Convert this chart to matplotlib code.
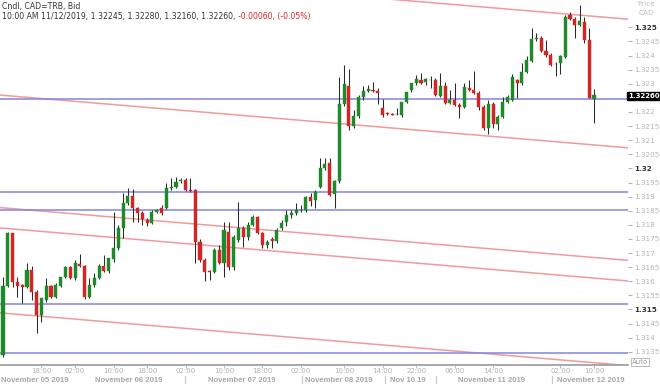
import numpy as np
import matplotlib
matplotlib.use("Agg")
import matplotlib.pyplot as plt
import matplotlib.transforms as mtransforms

# hourly candles, CAD=TRB bid
opens = [1.31338, 1.31583, 1.31771, 1.31597, 1.31586, 1.31579, 1.31640, 1.31562, 1.31480, 1.31533,
         1.31583, 1.31544, 1.31583, 1.31615, 1.31650, 1.31611, 1.31661, 1.31654, 1.31544, 1.31586,
         1.31611, 1.31654, 1.31636, 1.31679, 1.31718, 1.31789, 1.31877, 1.31902, 1.31859, 1.31842,
         1.31817, 1.31806, 1.31845, 1.31859, 1.31859, 1.31930, 1.31934, 1.31955, 1.31959, 1.31923,
         1.31923, 1.31739, 1.31675, 1.31633, 1.31633, 1.31711, 1.31664, 1.31774, 1.31650, 1.31746,
         1.31789, 1.31757, 1.31799, 1.31828, 1.31771, 1.31728, 1.31750, 1.31742, 1.31789, 1.31810,
         1.31835, 1.31842, 1.31852, 1.31852, 1.31898, 1.31888, 1.31934, 1.32001, 1.32019, 1.31909,
         1.31955, 1.32228, 1.32292, 1.32150, 1.32186, 1.32253, 1.32274, 1.32278, 1.32274, 1.32214,
         1.32196, 1.32193, 1.32193, 1.32189, 1.32235, 1.32278, 1.32303, 1.32313, 1.32306, 1.32313,
         1.32313, 1.32257, 1.32292, 1.32232, 1.32242, 1.32225, 1.32218, 1.32285, 1.32278, 1.32267,
         1.32218, 1.32143, 1.32228, 1.32157, 1.32182, 1.32235, 1.32242, 1.32313, 1.32303, 1.32342,
         1.32381, 1.32459, 1.32462, 1.32416, 1.32402, 1.32370, 1.32374, 1.32395, 1.32544, 1.32530,
         1.32508, 1.32519, 1.32455, 1.32245]
highs = [1.31615, 1.31774, 1.31771, 1.31615, 1.31590, 1.31664, 1.31654, 1.31569, 1.31540, 1.31611,
         1.31586, 1.31594, 1.31615, 1.31654, 1.31654, 1.31675, 1.31696, 1.31657, 1.31611, 1.31629,
         1.31661, 1.31693, 1.31682, 1.31845, 1.31799, 1.31913, 1.31930, 1.31927, 1.31863, 1.31849,
         1.31824, 1.31852, 1.31856, 1.31870, 1.31948, 1.31966, 1.31969, 1.31966, 1.31966, 1.31966,
         1.31927, 1.31750, 1.31682, 1.31640, 1.31718, 1.31728, 1.31810, 1.31810, 1.31764, 1.31881,
         1.31796, 1.31810, 1.31835, 1.31831, 1.31774, 1.31746, 1.31757, 1.31789, 1.31817, 1.31852,
         1.31852, 1.31877, 1.31870, 1.31902, 1.31913, 1.31923, 1.32037, 1.32037, 1.32037, 1.31959,
         1.32324, 1.32367, 1.32352, 1.32207, 1.32260, 1.32292, 1.32296, 1.32306, 1.32285, 1.32246,
         1.32200, 1.32196, 1.32214, 1.32196, 1.32260, 1.32296, 1.32331, 1.32338, 1.32320, 1.32328,
         1.32320, 1.32338, 1.32306, 1.32278, 1.32303, 1.32232, 1.32303, 1.32313, 1.32345, 1.32274,
         1.32225, 1.32242, 1.32235, 1.32189, 1.32253, 1.32260, 1.32335, 1.32317, 1.32374, 1.32398,
         1.32498, 1.32480, 1.32469, 1.32455, 1.32409, 1.32377, 1.32402, 1.32544, 1.32554, 1.32537,
         1.32579, 1.32537, 1.32498, 1.32280]
lows = [1.31331, 1.31579, 1.31579, 1.31544, 1.31523, 1.31576, 1.31533, 1.31416, 1.31455, 1.31526,
        1.31540, 1.31540, 1.31579, 1.31611, 1.31608, 1.31604, 1.31650, 1.31537, 1.31540, 1.31579,
        1.31608, 1.31633, 1.31629, 1.31668, 1.31711, 1.31753, 1.31870, 1.31810, 1.31810, 1.31799,
        1.31796, 1.31803, 1.31842, 1.31835, 1.31856, 1.31923, 1.31930, 1.31948, 1.31920, 1.31916,
        1.31664, 1.31668, 1.31601, 1.31604, 1.31629, 1.31661, 1.31615, 1.31640, 1.31640, 1.31739,
        1.31721, 1.31746, 1.31796, 1.31767, 1.31718, 1.31718, 1.31718, 1.31735, 1.31781, 1.31796,
        1.31824, 1.31835, 1.31845, 1.31845, 1.31867, 1.31859, 1.31930, 1.31994, 1.31902, 1.31859,
        1.31948, 1.32221, 1.32136, 1.32143, 1.32179, 1.32242, 1.32271, 1.32271, 1.32228, 1.32182,
        1.32189, 1.32189, 1.32189, 1.32182, 1.32232, 1.32271, 1.32296, 1.32299, 1.32296, 1.32285,
        1.32257, 1.32253, 1.32228, 1.32228, 1.32221, 1.32179, 1.32214, 1.32274, 1.32264, 1.32207,
        1.32136, 1.32122, 1.32143, 1.32136, 1.32179, 1.32232, 1.32239, 1.32250, 1.32296, 1.32338,
        1.32377, 1.32452, 1.32413, 1.32395, 1.32363, 1.32328, 1.32335, 1.32391, 1.32526, 1.32462,
        1.32505, 1.32445, 1.32250, 1.32160]
closes = [1.31583, 1.31771, 1.31597, 1.31583, 1.31579, 1.31640, 1.31562, 1.31480, 1.31540, 1.31583,
          1.31544, 1.31586, 1.31615, 1.31650, 1.31611, 1.31664, 1.31654, 1.31544, 1.31586, 1.31611,
          1.31654, 1.31636, 1.31682, 1.31718, 1.31789, 1.31877, 1.31902, 1.31859, 1.31842, 1.31820,
          1.31806, 1.31845, 1.31852, 1.31842, 1.31930, 1.31934, 1.31952, 1.31959, 1.31923, 1.31921,
          1.31739, 1.31675, 1.31633, 1.31631, 1.31711, 1.31664, 1.31781, 1.31650, 1.31757, 1.31789,
          1.31757, 1.31799, 1.31828, 1.31771, 1.31728, 1.31739, 1.31742, 1.31781, 1.31806, 1.31835,
          1.31842, 1.31852, 1.31854, 1.31898, 1.31884, 1.31916, 1.32001, 1.32016, 1.31906, 1.31955,
          1.32228, 1.32299, 1.32150, 1.32186, 1.32253, 1.32274, 1.32281, 1.32276, 1.32267, 1.32189,
          1.32194, 1.32191, 1.32194, 1.32235, 1.32271, 1.32303, 1.32317, 1.32303, 1.32317, 1.32315,
          1.32260, 1.32292, 1.32232, 1.32242, 1.32225, 1.32218, 1.32289, 1.32278, 1.32267, 1.32218,
          1.32143, 1.32228, 1.32157, 1.32182, 1.32235, 1.32253, 1.32324, 1.32303, 1.32342, 1.32384,
          1.32459, 1.32462, 1.32416, 1.32402, 1.32367, 1.32372, 1.32398, 1.32537, 1.32530, 1.32508,
          1.32523, 1.32455, 1.32250, 1.32260]

# drawn support / resistance lines
hlines_price = [1.32246, 1.31915, 1.31852, 1.31519, 1.31346]
# channel lines: (start index, start price, end index, end price)
channel_lines = [(-0.62, 1.32716, 130.07, 1.32529),
                 (-0.62, 1.32260, 130.07, 1.32073),
                 (-0.62, 1.31861, 130.07, 1.31674),
                 (-0.62, 1.31789, 130.07, 1.31601),
                 (-0.62, 1.31488, 130.07, 1.31301)]

time_tick_pos = [8, 15, 23, 30, 38, 46, 54, 62, 71, 79, 86, 94, 102, 116, 123]
time_tick_lab = ["18:00", "02:00", "10:00", "18:00", "02:00", "10:00", "18:00", "02:00",
                 "10:00", "14:00", "22:00", "06:00", "14:00", "02:00", "10:00"]
# date captions start (left edge) at these candle positions
date_pos = [-0.45, 19.1, 42.7, 62.9, 80.5, 94.7, 115.3]
date_lab = ["November 05 2019", "November 06 2019", "November 07 2019", "November 08 2019",
            "Nov 10 19", "November 11 2019", "November 12 2019"]
date_sep = [37.9, 62.2, 79.5, 90.1, 114.3]

last_price = 1.32260
green = "#1f8a2a"
red = "#d42525"

fig = plt.figure(figsize=(6.6, 3.84), dpi=100)
ax = fig.add_axes([0, 19 / 384, 628 / 660, 365 / 384])
ax.set_xlim(-0.62, 130.07)
ax.set_ylim(1.31303, 1.32597)

# channel and level lines
for x0, y0, x1, y1 in channel_lines:
    ax.plot([x0, x1], [y0, y1], color="#f09a9a", lw=1.1, zorder=1)
for p in hlines_price:
    ax.axhline(p, color="#8484e0", lw=1.1, zorder=1)

# candles
idx = np.arange(len(opens))
o = np.array(opens)
c = np.array(closes)
up = c >= o
ax.vlines(idx, lows, highs, color="#2a2a2a", lw=0.75, zorder=2)
body = np.where(np.abs(c - o) < 0.00002, 0.00003, c - o)
base = np.where(np.abs(c - o) < 0.00002, o - 0.000015, o)
ax.bar(idx, body, bottom=base, width=0.64,
       color=np.where(up, green, red), edgecolor=np.where(up, green, red),
       lw=0.3, zorder=3)

# axes styling
for s in ["top", "left", "right"]:
    ax.spines[s].set_visible(False)
ax.spines["bottom"].set_color("#9a9a9a")
ax.spines["bottom"].set_linewidth(1.2)

ax.set_xticks(time_tick_pos)
ax.set_xticklabels(time_tick_lab, fontsize=5.0, color="#b0b0b0")
ax.tick_params(axis="x", length=2, color="#c0c0c0", pad=0.5)

yt = np.round(np.arange(1.3135, 1.32501, 0.0005), 4)
ax.yaxis.tick_right()
ax.set_yticks(yt)
labs = []
for v in yt:
    s = ("%.4f" % v).rstrip("0")
    if abs(v - 1.3225) < 1e-6:
        s = ""  # hidden under the last-price box
    labs.append(s)
ax.set_yticklabels(labs, fontsize=5.2)
ax.tick_params(axis="y", length=3, color="#b0b0b0", pad=1.5)
for v, t in zip(yt, ax.get_yticklabels()):
    if abs(v * 1000 - round(v * 1000)) < 1e-6 and round(v * 1000) % 5 == 0:
        t.set_color("#333333")
        t.set_fontweight("bold")
    else:
        t.set_color("#b4b4b4")

# date row under the time labels
trans = mtransforms.blended_transform_factory(ax.transData, fig.transFigure)
for p, lab in zip(date_pos, date_lab):
    ax.text(p, 0.5 / 384, lab, transform=trans, ha="left", va="bottom",
            fontsize=5.6, fontweight="bold", color="#a8a8a8", clip_on=False,
            family="Liberation Sans")
for p in date_sep:
    ax.plot([p, p], [0.5 / 384, 8 / 384], transform=trans, color="#c8c8c8",
            lw=0.8, clip_on=False)

# header text
fig.text(2 / 660, 1 - 7 / 384, "Cndl, CAD=TRB, Bid", fontsize=5.6, color="#333333",
         va="center", ha="left")
t1 = fig.text(2 / 660, 1 - 17 / 384,
              "10:00 AM 11/12/2019, 1.32245, 1.32280, 1.32160, 1.32260, ",
              fontsize=5.6, color="#333333", va="center", ha="left")
fig.canvas.draw()
bb = t1.get_window_extent()
fig.text(bb.x1 / 660, 1 - 17 / 384, "-0.00060, (-0.05%)", fontsize=5.6, color=red,
         va="center", ha="left")

fig.text(646 / 660, 1 - 4 / 384, "Price", fontsize=5.2, color="#c0c0c0", ha="center", va="center")
fig.text(646 / 660, 1 - 13 / 384, "CAD", fontsize=5.2, color="#c0c0c0", ha="center", va="center")

# last price box
fig.text(644 / 660, 1 - 96 / 384, "1.32260", ha="center", va="center", fontsize=5.0,
         fontweight="bold", color="white",
         bbox=dict(boxstyle="square,pad=0.12", fc="black", ec="black"), zorder=10)

fig.text(640 / 660, 1 - 362 / 384, "Auto", fontsize=5.0, color="#a0a0a0", ha="center", va="center",
         bbox=dict(boxstyle="square,pad=0.12", fc="white", ec="#b0b0b0", lw=0.6))

fig.savefig("out.png", dpi=100)
